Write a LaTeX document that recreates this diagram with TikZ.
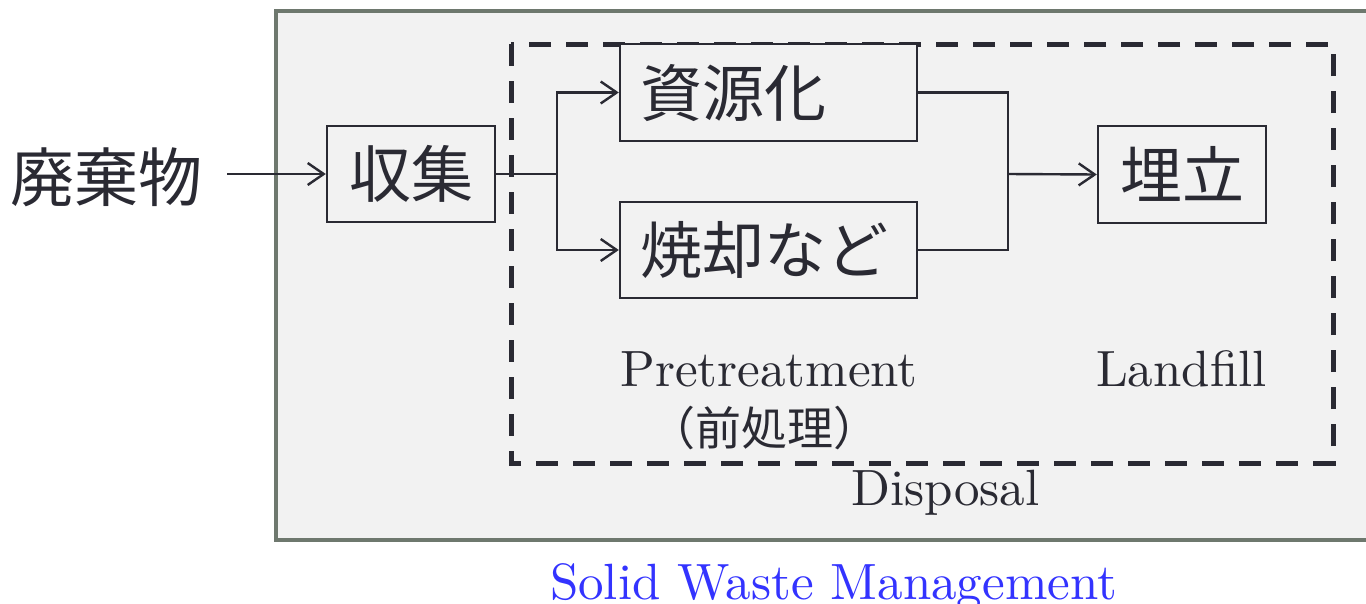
\documentclass[tikz,border=0pt]{standalone}
\usepackage{fontspec}
\setmainfont{lmroman10-regular}[Extension=.otf]
\newfontfamily\jp{Noto Sans CJK JP}
\usetikzlibrary{arrows.meta}
\definecolor{ink}{HTML}{2A2A33}
\definecolor{framec}{HTML}{6E786E}
\definecolor{bg}{HTML}{F2F2F2}
\definecolor{swm}{HTML}{3333FF}
\begin{document}
\begin{tikzpicture}[x=1pt,y=-1pt,
  box/.style={draw=ink, line width=2.4pt, fill=bg, inner sep=0pt, text=ink,
    font=\jp\fontsize{62}{62}\selectfont, text height=54.5pt, text depth=7.5pt},
  leftbox/.style={box, minimum width=297pt, text width=257pt, align=left, inner xsep=20pt},
  lab/.style={text=ink, inner sep=0pt, font=\fontsize{51}{51}\selectfont, anchor=base},
  arr/.style={draw=ink, line width=2.4pt, -{Straight Barb[length=16pt,width=22pt]}},
  conn/.style={draw=ink, line width=2.4pt}
]
\useasboundingbox (0,0) rectangle (1366,603);
% outer frame
\fill[bg] (276,11) rectangle (1366,540);
\draw[framec, line width=4.5pt] (1372,11) -- (276,11) -- (276,540) -- (1372,540);
% dashed disposal frame
\draw[ink, line width=5pt, dash pattern=on 22pt off 15pt] (511,44) rectangle (1333,463);

% nodes
\node[text=ink, inner ysep=0pt, inner xsep=25pt, font=\jp\fontsize{64}{64}\selectfont,
      text height=56.3pt, text depth=7.7pt] (waste) at (106,177) {廃棄物};
\node[box, minimum width=168pt, minimum height=96pt] (collect) at (411,174) {収集};
\node[leftbox, minimum height=97pt] (res) at (768.5,92.5) {資源化};
\node[leftbox, minimum height=96pt] (inc) at (768.5,250) {焼却など};
\node[box, minimum width=168pt, minimum height=97pt] (land) at (1182,174.5) {埋立};

\coordinate (s1) at (557,174);
\coordinate (s2) at (1008,174);

% connectors
\draw[arr] (waste.east |- collect.west) -- (collect.west);
\draw[conn] (collect.east) -- (s1);
\draw[arr] (s1) |- (res.west);
\draw[arr] (s1) |- (inc.west);
\draw[conn] (res.east) -| (s2);
\draw[conn] (inc.east) -| (s2);
\draw[arr] (s2) -- (land.west);

% labels
\node[lab] (pre) at (769,386) {Pretreatment};
\node[text=ink, inner sep=0pt, font=\jp\fontsize{46}{46}\selectfont,
      text height=40.5pt, text depth=5.5pt] (prejp) at (764.5,428) {（前処理）};
\node[lab] (lf) at (1181.5,386) {Landfill};
\node[lab] (disp) at (945.5,505) {Disposal};
\node[lab, text=swm] (title) at (833.5,599) {Solid Waste Management};
\end{tikzpicture}
\end{document}
